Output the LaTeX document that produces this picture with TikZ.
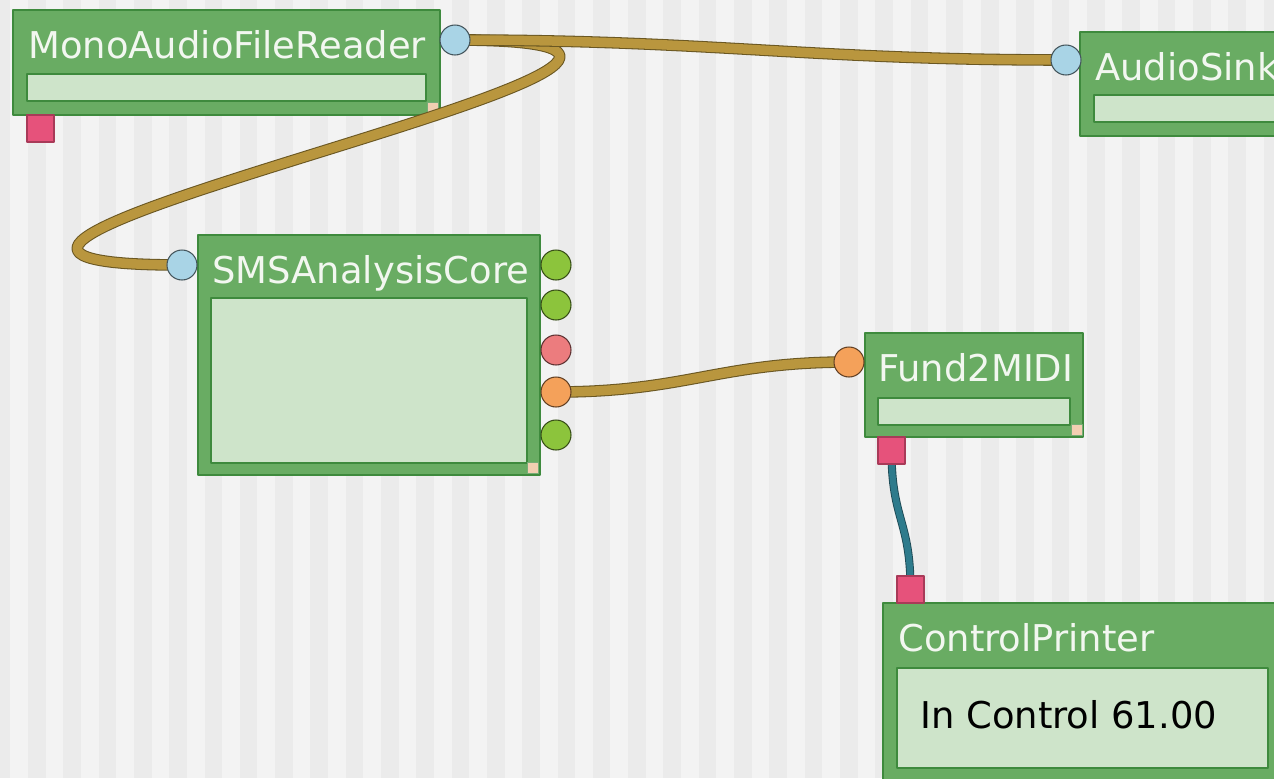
\documentclass[tikz,border=0pt]{standalone}
\usepackage{fontspec}
\setmainfont{DejaVu Sans}
\definecolor{stripelight}{HTML}{F3F3F3}
\definecolor{stripedark}{HTML}{EBEBEB}
\definecolor{boxgreen}{HTML}{69AC63}
\definecolor{boxedge}{HTML}{3E8A3D}
\definecolor{panelgreen}{HTML}{CEE4CA}
\definecolor{titlewhite}{HTML}{F2F7F0}
\definecolor{gripcol}{HTML}{F3CFB2}
\definecolor{portblue}{HTML}{A9D4E6}
\definecolor{portgreen}{HTML}{8CC43C}
\definecolor{portred}{HTML}{EC7C7E}
\definecolor{portorange}{HTML}{F4A15A}
\definecolor{ctlpink}{HTML}{E6527B}
\definecolor{ctledge}{HTML}{A83A58}
\definecolor{cablegold}{HTML}{B9963E}
\definecolor{cableedge}{HTML}{6A5722}
\definecolor{cableteal}{HTML}{2E7B8C}
\definecolor{tealedge}{HTML}{1E4A55}
\begin{document}
\begin{tikzpicture}[x=0.02cm, y=0.02cm, font=\fontsize{21}{25}\selectfont, line join=round, line cap=round,
	block/.style={draw=boxedge, fill=boxgreen, line width=1.1pt, anchor=north west, inner sep=0pt, outer sep=0pt},
	panel/.style={draw=boxedge, fill=panelgreen, line width=1.1pt, anchor=north west, inner sep=0pt, outer sep=0pt},
	title/.style={anchor=base west, text=titlewhite, inner sep=0pt},
	grip/.style={draw=boxedge!70, fill=gripcol, line width=0.4pt, minimum size=0.21cm, inner sep=0pt, anchor=north west},
	port/.style={circle, draw=#1!40!black, fill=#1, line width=0.6pt, minimum size=0.60cm, inner sep=0pt},
	ctl/.style={draw=ctledge, fill=ctlpink, line width=0.6pt, minimum size=0.54cm, inner sep=0pt},
	cable/.style={line width=0.6pt, draw=cableedge, double=cablegold, double distance=5.4pt},
	ctlcable/.style={line width=0.5pt, draw=tealedge, double=cableteal, double distance=3.6pt}]
	\clip (0,0) rectangle (1274,-778);
	% striped canvas
	\fill[stripelight] (0,0) rectangle (1274,-778);
	\foreach \k in {-1,...,36}
		\fill[stripedark] ({28+35.3*\k},0) rectangle +(17.6,-778);

	% processing boxes
	\node[block, minimum width=8.54cm, minimum height=2.10cm] (reader) at (13,-10) {};
	\node[panel, minimum width=7.98cm, minimum height=0.54cm] (readerpanel) at (27,-74) {};
	\node[title] (readertitle) at (28,-58) {MonoAudioFileReader};
	\node[grip] (readergrip) at (427,-102) {};

	\node[block, minimum width=4.40cm, minimum height=2.08cm] (sink) at (1080,-32) {};
	\node[panel, minimum width=4.00cm, minimum height=0.54cm] (sinkpanel) at (1094,-95) {};
	\node[title] (sinktitle) at (1095,-80) {AudioSink};

	\node[block, minimum width=6.84cm, minimum height=4.80cm] (core) at (198,-235) {};
	\node[panel, minimum width=6.32cm, minimum height=3.30cm] (corepanel) at (211,-298) {};
	\node[title] (coretitle) at (212,-283) {SMSAnalysisCore};
	\node[grip] (coregrip) at (527,-462) {};

	\node[block, minimum width=4.36cm, minimum height=2.08cm] (fund) at (865,-333) {};
	\node[panel, minimum width=3.84cm, minimum height=0.54cm] (fundpanel) at (878,-398) {};
	\node[title] (fundtitle) at (878,-381) {Fund2MIDI};
	\node[grip] (fundgrip) at (1071,-424) {};

	\node[block, minimum width=8.20cm, minimum height=4.00cm] (printer) at (883,-603) {};
	\node[panel, minimum width=7.42cm, minimum height=2.00cm] (printerpanel) at (897,-668) {};
	\node[title] (printertitle) at (898,-651) {ControlPrinter};
	\node[anchor=base west, inner sep=0pt] (printervalue) at (920,-728) {In Control 61.00};

	% ports
	\coordinate (readerout) at (455,-40);
	\coordinate (sinkin) at (1066,-60);
	\coordinate (corein) at (182,-265);
	\coordinate (coreout4) at (556,-392);
	\coordinate (fundin) at (849,-362);
	\coordinate (fundctl) at (891.5,-450.5);
	\coordinate (printerctl) at (910.5,-589.5);

	% cables
	\draw[cable] (readerout) .. controls +(450,0) and +(-450,0) .. (corein);
	\draw[cable] (readerout) .. controls +(260,0) and +(-260,0) .. (sinkin);
	\draw[cable] (coreout4) .. controls +(130,0) and +(-130,0) .. (fundin);
	\draw[ctlcable] (fundctl) .. controls +(0,-70) and +(0,70) .. (printerctl);

	\node[port=portblue] (readeroutport) at (readerout) {};
	\node[port=portblue] (sinkinport) at (sinkin) {};
	\node[port=portblue] (coreinport) at (corein) {};
	\node[port=portgreen] (coreout1) at (556,-265) {};
	\node[port=portgreen] (coreout2) at (556,-305) {};
	\node[port=portred] (coreout3) at (556,-350) {};
	\node[port=portorange] (coreout4port) at (coreout4) {};
	\node[port=portgreen] (coreout5) at (556,-435) {};
	\node[port=portorange] (fundinport) at (fundin) {};

	\node[ctl] (readerctlport) at (40.5,-128.5) {};
	\node[ctl] (fundctlport) at (fundctl) {};
	\node[ctl] (printerctlport) at (printerctl) {};
\end{tikzpicture}
\end{document}
